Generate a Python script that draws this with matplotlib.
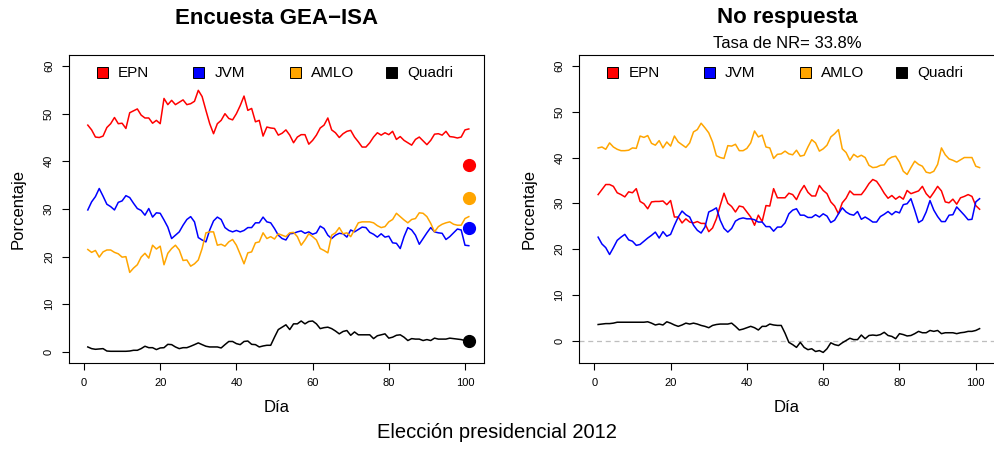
import matplotlib
matplotlib.use("Agg")
import matplotlib.pyplot as plt
from matplotlib.patches import Rectangle

plt.rcParams['font.family'] = ['Liberation Sans', 'DejaVu Sans']

dias = list(range(1, 102))
candidatos = ["EPN", "JVM", "AMLO", "Quadri"]
colores = ["#FF0000", "#0000FF", "#FFA500", "#000000"]

gea_epn = [47.6, 46.6, 45.1, 45.0, 45.3, 47.1, 47.9, 49.2, 47.9, 48.0,
           46.9, 50.2, 50.6, 51.0, 49.7, 49.1, 49.1, 48.0, 48.6, 47.9,
           53.2, 51.9, 52.8, 51.9, 52.4, 52.9, 51.9, 52.1, 52.6, 54.9,
           53.6, 50.7, 47.9, 45.8, 47.9, 48.6, 50.0, 49.0, 48.7, 50.0,
           51.7, 53.7, 50.7, 51.1, 48.3, 48.6, 45.3, 47.2, 47.0, 46.9,
           45.5, 45.9, 46.6, 45.5, 43.9, 45.1, 45.6, 45.6, 43.6, 44.4,
           45.5, 47.0, 47.6, 49.1, 46.6, 46.0, 45.0, 45.8, 46.3, 46.5,
           45.1, 44.1, 43.0, 43.0, 43.9, 45.1, 46.0, 45.5, 46.0, 45.6,
           46.3, 44.6, 45.2, 44.4, 43.9, 43.4, 44.6, 45.1, 44.3, 43.5,
           44.4, 45.7, 45.8, 45.5, 46.3, 45.2, 45.1, 44.9, 45.1, 46.6,
           46.8]
gea_jvm = [29.8, 31.5, 32.6, 34.3, 32.7, 31.0, 30.5, 29.8, 31.4, 31.7,
           32.8, 32.4, 31.2, 30.1, 29.7, 28.7, 30.1, 28.3, 29.2, 29.1,
           27.7, 26.2, 23.8, 24.5, 25.2, 26.6, 27.8, 28.4, 27.3, 24.0,
           23.5, 23.1, 25.6, 27.5, 28.3, 27.8, 26.1, 25.5, 25.2, 25.5,
           25.2, 25.5, 26.1, 26.1, 27.1, 27.1, 28.3, 27.3, 27.1, 25.9,
           24.5, 23.8, 23.5, 24.8, 24.9, 25.2, 25.4, 24.9, 25.2, 24.7,
           25.0, 26.4, 25.9, 24.5, 23.8, 24.5, 24.9, 24.8, 24.1, 25.6,
           25.2, 25.7, 26.2, 26.1, 25.1, 24.7, 24.1, 24.8, 24.1, 24.3,
           22.9, 22.8, 21.7, 24.2, 26.1, 25.6, 24.5, 22.6, 23.8, 25.0,
           26.1, 25.2, 25.0, 24.9, 23.6, 24.2, 25.0, 25.8, 25.6, 22.4,
           22.3]
gea_amlo = [21.5, 20.9, 21.3, 19.9, 21.0, 21.4, 21.4, 20.9, 20.6, 19.9,
            20.0, 16.7, 17.6, 18.3, 19.9, 20.7, 19.7, 22.4, 21.6, 22.2,
            18.3, 20.7, 21.7, 22.4, 21.4, 19.2, 19.3, 18.0, 18.5, 19.3,
            21.7, 25.0, 25.2, 25.2, 22.4, 22.6, 22.2, 23.1, 23.6, 22.4,
            20.5, 18.5, 20.8, 21.0, 22.9, 23.1, 25.0, 23.8, 24.2, 23.7,
            24.8, 24.5, 24.2, 25.0, 25.1, 24.2, 22.4, 23.5, 24.8, 24.2,
            23.5, 21.7, 21.3, 20.8, 24.5, 25.0, 26.1, 24.8, 25.0, 24.2,
            25.6, 27.1, 27.3, 27.3, 27.3, 27.1, 26.5, 26.1, 26.3, 27.3,
            27.8, 29.1, 28.4, 27.7, 27.1, 27.8, 28.0, 29.2, 29.1, 28.4,
            27.0, 25.2, 26.3, 26.8, 27.1, 27.3, 26.8, 26.6, 26.6, 28.0,
            28.4]
gea_quadri = [1.05, 0.7, 0.56, 0.63, 0.7, 0.2, 0.14, 0.14, 0.14, 0.14,
              0.14, 0.2, 0.35, 0.35, 0.7, 1.2, 0.9, 0.9, 0.5, 0.84,
              0.9, 1.6, 1.54, 1.05, 0.7, 0.9, 0.9, 1.2, 1.54, 1.9,
              1.54, 1.2, 1.05, 1.05, 1.05, 0.84, 1.54, 2.2, 2.2, 1.75,
              1.54, 2.2, 2.3, 1.6, 1.54, 1.05, 1.26, 1.4, 1.4, 3.1,
              4.7, 5.2, 5.7, 4.7, 5.9, 5.9, 6.5, 5.9, 6.4, 6.5,
              5.9, 4.9, 5.1, 5.2, 4.9, 4.4, 3.8, 4.3, 4.5, 3.5,
              4.2, 3.6, 3.6, 3.6, 3.6, 2.8, 3.4, 3.6, 3.8, 2.9,
              3.1, 3.5, 3.6, 3.1, 2.4, 2.8, 2.7, 2.7, 2.4, 2.6,
              2.4, 2.9, 2.7, 2.7, 2.7, 2.9, 2.8, 2.7, 2.6, 2.4,
              2.4]
resultado_dia = 101
resultado = [39.2, 26.0, 32.4, 2.4]

nr_epn = [31.9, 33.0, 34.1, 34.1, 33.7, 32.3, 31.9, 31.4, 32.5, 32.3,
          33.2, 30.4, 29.9, 28.8, 30.3, 30.4, 30.4, 30.5, 29.7, 30.6,
          27.0, 27.0, 25.7, 26.6, 25.9, 25.7, 26.0, 25.6, 25.6, 23.8,
          24.6, 26.6, 29.5, 32.2, 30.0, 29.3, 28.1, 29.4, 29.2, 28.1,
          27.0, 25.2, 27.4, 26.0, 29.5, 29.4, 33.2, 31.2, 31.2, 31.2,
          32.2, 31.9, 30.8, 32.6, 33.9, 32.4, 31.6, 31.6, 33.9, 32.8,
          32.1, 30.3, 29.4, 27.7, 30.1, 31.1, 32.7, 31.9, 31.9, 31.9,
          33.0, 34.3, 35.2, 34.8, 33.6, 32.2, 31.1, 31.7, 30.9, 31.5,
          30.9, 32.8, 32.1, 32.4, 32.7, 33.7, 32.1, 31.2, 32.4, 33.7,
          32.7, 30.3, 30.1, 30.9, 29.8, 31.2, 31.5, 31.9, 31.5, 29.5,
          28.7]
nr_jvm = [22.6, 21.1, 20.3, 18.8, 20.3, 21.9, 22.6, 23.2, 22.0, 21.7,
          20.8, 21.0, 21.7, 22.4, 23.0, 23.7, 22.4, 23.8, 22.8, 23.2,
          25.2, 27.0, 28.3, 27.5, 27.0, 25.2, 24.1, 23.5, 24.8, 28.1,
          28.5, 29.0, 26.3, 24.5, 23.7, 24.5, 26.1, 26.6, 26.8, 26.6,
          26.6, 26.4, 25.9, 25.9, 24.9, 24.9, 23.9, 24.8, 24.8, 25.7,
          27.7, 28.5, 28.8, 27.4, 27.4, 26.9, 26.9, 27.5, 27.0, 27.7,
          27.2, 25.8, 26.3, 27.7, 29.0, 28.1, 27.6, 27.4, 28.2, 26.5,
          27.0, 26.5, 25.9, 25.9, 27.1, 27.6, 28.2, 27.5, 28.2, 27.9,
          29.7, 29.9, 31.0, 28.5, 25.8, 26.3, 28.1, 30.6, 28.5, 27.1,
          26.0, 26.0, 27.4, 27.5, 29.2, 28.3, 27.4, 26.4, 26.5, 30.3,
          31.0]
nr_amlo = [42.1, 42.3, 41.8, 43.2, 42.3, 41.8, 41.5, 41.5, 41.6, 42.1,
           42.0, 44.7, 44.4, 44.8, 43.1, 42.7, 43.7, 42.1, 43.4, 42.5,
           44.7, 43.4, 42.8, 42.2, 43.2, 45.6, 46.1, 47.5, 46.5, 45.4,
           43.4, 40.4, 40.0, 39.8, 42.6, 42.5, 42.9, 41.5, 41.5, 42.0,
           43.2, 45.8, 44.5, 44.9, 42.3, 42.1, 39.8, 40.7, 40.8, 41.4,
           40.8, 40.6, 41.6, 40.3, 40.5, 42.3, 43.9, 43.2, 41.4, 41.9,
           42.7, 44.5, 45.2, 46.1, 41.9, 41.1, 39.4, 40.7, 40.1, 40.5,
           40.0, 38.3, 37.8, 37.9, 38.3, 38.4, 39.6, 40.1, 40.3, 39.0,
           37.0, 36.3, 37.8, 39.2, 38.5, 38.1, 36.8, 36.6, 37.0, 38.5,
           42.1, 40.6, 39.7, 39.4, 39.0, 39.5, 40.0, 40.0, 40.0, 38.1,
           37.8]
nr_quadri = [3.5, 3.6, 3.7, 3.7, 3.8, 4.0, 4.0, 4.0, 4.0, 4.0,
             4.0, 4.0, 4.0, 4.1, 3.8, 3.4, 3.6, 3.4, 4.1, 3.8,
             3.4, 3.1, 3.4, 3.8, 3.6, 3.8, 3.6, 3.3, 3.1, 2.8,
             3.3, 3.5, 3.6, 3.6, 3.6, 3.8, 3.1, 2.3, 2.5, 2.8,
             3.1, 2.8, 2.3, 3.1, 3.1, 3.6, 3.4, 3.3, 3.3, 1.6,
             -0.4, -0.9, -1.5, -0.4, -1.5, -2.0, -1.8, -2.4, -2.2, -2.6,
             -1.8, -0.5, -0.9, -1.1, -0.5, 0.0, 0.5, 0.2, 0.2, 1.2,
             0.4, 1.1, 1.2, 1.1, 1.3, 1.8, 1.1, 0.9, 0.4, 1.5,
             1.3, 1.0, 1.1, 1.5, 2.0, 1.7, 1.7, 2.2, 2.0, 2.2,
             1.5, 1.7, 1.7, 1.7, 1.5, 1.7, 1.8, 2.0, 2.0, 2.2,
             2.6]
tasa_nr = "33.8%"

xticks = [0, 20, 40, 60, 80, 100]
yticks = [0, 10, 20, 30, 40, 50, 60]

W, H = 994, 449
fig = plt.figure(figsize=(W / 100, H / 100), dpi=100)


def px_axes(left, right, top, bottom):
    return fig.add_axes([left / W, 1 - bottom / H, (right - left) / W, (bottom - top) / H])


ax1 = px_axes(68.6, 484.2, 54.6, 363.4)
ax2 = px_axes(578.9, 995.0, 54.6, 363.4)


def legend_row(ax):
    # horizontal legend with equal slots (as R's legend(horiz=TRUE))
    bb = ax.get_position()
    wpx, hpx = bb.width * W, bb.height * H
    box = 11.0
    x0, step, yc = 28.5, 96.3, 290.4
    for i, (n, c) in enumerate(zip(candidatos, colores)):
        xl = x0 + i * step
        ax.add_patch(Rectangle((xl / wpx, (yc - box / 2) / hpx), box / wpx, box / hpx,
                               transform=ax.transAxes, facecolor=c, edgecolor='black',
                               linewidth=0.7, clip_on=False))
        ax.text((xl + 21) / wpx, yc / hpx, n, transform=ax.transAxes,
                ha='left', va='center', fontsize=11)


def style(ax, ylim):
    ax.set_xlim(-4.04, 105.04)
    ax.set_ylim(*ylim)
    ax.set_xticks(xticks)
    ax.set_yticks(yticks)
    ax.tick_params(direction='out', length=5, width=0.8, labelsize=8, pad=5.5)
    for lbl in ax.get_yticklabels():
        lbl.set_rotation(90)
        lbl.set_va('center')
    for s in ax.spines.values():
        s.set_linewidth(0.8)
    legend_row(ax)


series1 = [gea_epn, gea_jvm, gea_amlo, gea_quadri]
for vals, c in zip(series1, colores):
    ax1.plot(dias, vals, color=c, lw=1.1)
for v, c in zip(resultado, colores):
    ax1.plot([resultado_dia], [v], 'o', color=c, ms=8.5)
style(ax1, (-2.4, 62.4))

series2 = [nr_epn, nr_jvm, nr_amlo, nr_quadri]
ax2.axhline(0, color='#BEBEBE', lw=0.9, ls=(0, (4, 3)))
for vals, c in zip(series2, colores):
    ax2.plot(dias, vals, color=c, lw=1.1)
style(ax2, (-5.0, 62.5))


def ftext(x, y, s, **kw):
    fig.text(x / W, 1 - y / H, s, ha='center', va='center', **kw)


ftext(276.4, 18, "Encuesta GEA\u2212ISA", fontsize=16, fontweight='bold')
ftext(787, 18, "No respuesta", fontsize=16, fontweight='bold')
ftext(787, 44, "Tasa de NR= " + tasa_nr, fontsize=12)
ftext(276.4, 408, "Día", fontsize=12)
ftext(787, 408, "Día", fontsize=12)
ftext(18, 209, "Porcentaje", fontsize=12, rotation=90)
ftext(529, 209, "Porcentaje", fontsize=12, rotation=90)
ftext(497, 433, "Elección presidencial 2012", fontsize=14.5)

fig.savefig("out.png", dpi=100)
